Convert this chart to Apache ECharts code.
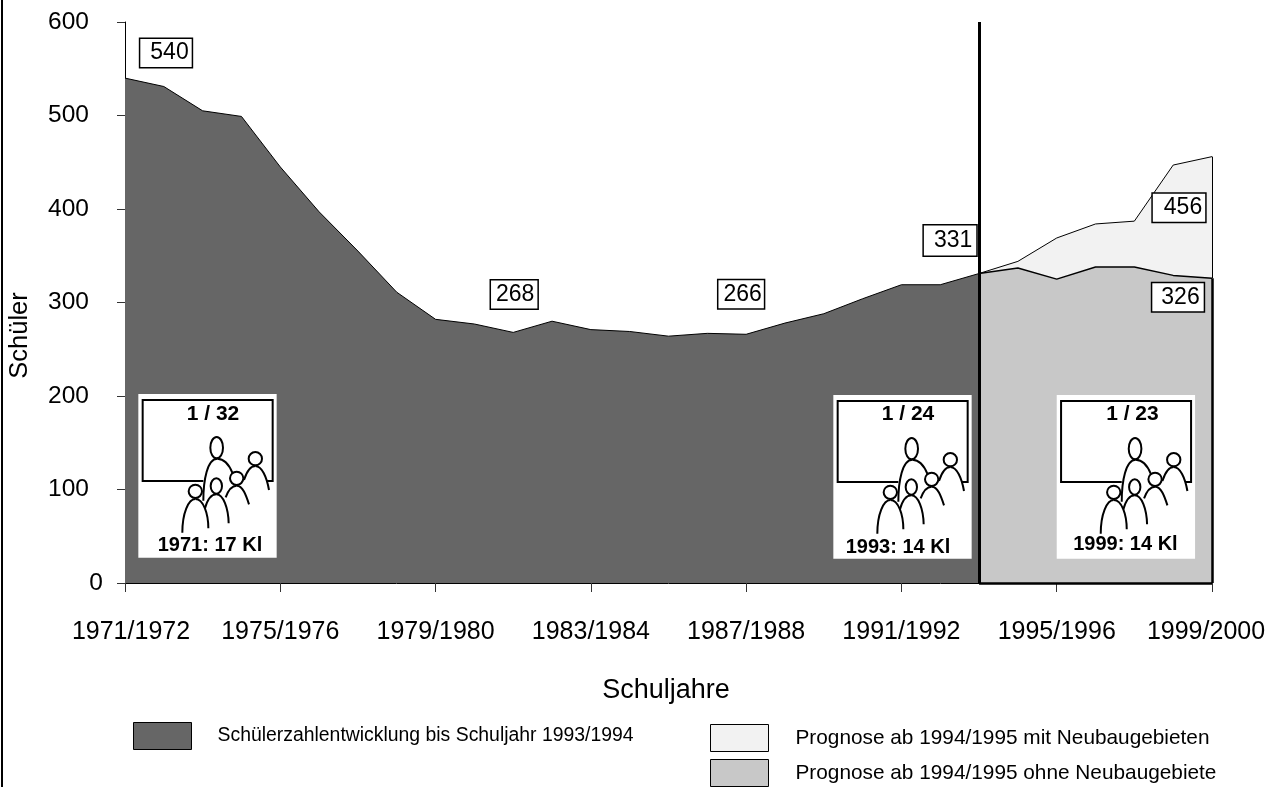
<!DOCTYPE html>
<html><head><meta charset="utf-8">
<style>html,body{margin:0;padding:0;background:#fff}#c{width:1276px;height:787px}</style>
<script src="https://cdn.jsdelivr.net/npm/echarts@6/dist/echarts.min.js"></script>
</head><body><div id="c"></div>
<script>
const years = ['1971/1972','1972/1973','1973/1974','1974/1975','1975/1976','1976/1977','1977/1978','1978/1979','1979/1980','1980/1981','1981/1982','1982/1983','1983/1984','1984/1985','1985/1986','1986/1987','1987/1988','1988/1989','1989/1990','1990/1991','1991/1992','1992/1993','1993/1994','1994/1995','1995/1996','1996/1997','1997/1998','1998/1999','1999/2000'];
const pupils = [540,531,505,499,445,397,355,311,282,277,268,280,271,269,264,267,266,278,288,304,319,319,331,null,null,null,null,null,null];
const withNew = [null,null,null,null,null,null,null,null,null,null,null,null,null,null,null,null,null,null,null,null,null,null,331,344,369,384,387,447,456];
const withoutNew = [null,null,null,null,null,null,null,null,null,null,null,null,null,null,null,null,null,null,null,null,null,null,331,337,325,338,338,329,326];
const names = ['Schülerzahlentwicklung bis Schuljahr 1993/1994','Prognose ab 1994/1995 mit Neubaugebieten','Prognose ab 1994/1995 ohne Neubaugebiete'];
const pictoTexts = [['1 / 32','1971: 17 Kl'],['1 / 24','1993: 14 Kl'],['1 / 23','1999: 14 Kl']];

const F = '"Liberation Sans", Arial, sans-serif';
function callout(series, i, dx, dy, pad) {
  return {coord:[years[i], series[i]], value:series[i], symbol:'rect', symbolSize:0,
    label:{show:true, position:'inside', offset:[dx,dy], formatter:'{c}', color:'#000', fontFamily:F, fontSize:23,
      backgroundColor:'#fff', borderColor:'#000', borderWidth:1.5, padding:pad, lineHeight:22}};
}
const last = years.length-1, split = 22;
function picto(px, py, tx1, ty1, tx2, ty2, texts){
  const ln = {stroke:'#000', lineWidth:6, fill:'none'};
  const hd = {stroke:'#000', lineWidth:6, fill:'#fff'};
  const curves = [
    [250,362,250,300,262,236,292,236],[292,236,315,236,330,260,338,280],
    [372,300,380,275,392,258,406,258],[406,258,425,258,440,290,447,330],
    [317,352,325,330,335,317,350,317],[350,317,368,317,378,345,387,373],
    [255,385,262,360,275,343,289,343],[289,343,310,343,325,385,326,430],
    [187,458,187,400,205,357,226,357],[226,357,250,357,265,400,265,445]
  ];
  const heads = [[290,203,19,32],[406,236,20,20],[350,295,20,20],[289,318,17,23],[226,334,20,20]];
  return {type:'group', x:px, y:py, z:50, children:[
    {type:'group', scaleX:1/3, scaleY:1/3, children:[
      {type:'rect', z:50, shape:{x:55,y:42,width:415,height:491}, style:{fill:'#fff'}},
      {type:'polyline', z:51, shape:{points:[[250,303],[68,303],[68,60],[458,60],[458,303],[440,303]]}, style:ln},
      ...curves.map(c=>({type:'bezierCurve', z:51, shape:{x1:c[0],y1:c[1],cpx1:c[2],cpy1:c[3],cpx2:c[4],cpy2:c[5],x2:c[6],y2:c[7]}, style:ln})),
      ...heads.map(h=>({type:'ellipse', z:52, shape:{cx:h[0],cy:h[1],rx:h[2],ry:h[3]}, style:hd}))
    ]},
    {type:'text', z:53, x:tx1, y:ty1, style:{text:texts[0], font:'bold 21px '+F, fill:'#000', align:'center', verticalAlign:'middle'}},
    {type:'text', z:53, x:tx2, y:ty2, style:{text:texts[1], font:'bold 20px '+F, fill:'#000', align:'center', verticalAlign:'middle'}}
  ]};
}
function legend(name, x, y, color, size, gap){
  return {data:[name], left:x, top:y, padding:0, icon:'rect', itemWidth:58, itemHeight:27, selectedMode:false,
    itemStyle:{color:color, borderColor:'#000', borderWidth:1},
    textStyle:{fontFamily:F, fontSize:size, color:'#000', padding:[0,0,0,gap]}};
}
const chart = echarts.init(document.getElementById('c'), null, {renderer:'canvas'});
chart.setOption({
  animation:false,
  backgroundColor:'#fff',
  grid:{left:125, top:22, width:1087, height:561, outerBoundsMode:'none'},
  legend:[legend(names[0],133,722,'#666666',19.4,21), legend(names[1],710,724,'#f2f2f2',20.8,22), legend(names[2],710,759,'#c8c8c8',20.8,22)],
  xAxis:{type:'category', data:years, boundaryGap:false,
    name:'Schuljahre', nameLocation:'middle', nameGap:94, nameTextStyle:{fontFamily:F,fontSize:27,color:'#000',padding:[0,5,0,0]},
    axisLine:{lineStyle:{color:'#000',width:1}},
    axisTick:{alignWithLabel:true, interval:3, length:9, lineStyle:{color:'#333'}},
    axisLabel:{interval:3, margin:37, fontFamily:F, fontSize:25, color:'#000', hideOverlap:false,
      showMinLabel:true, showMaxLabel:true,
      formatter:v=> v===years[0] ? '{a|'+v+'}' : v===years[last] ? '{b|'+v+'}' : v,
      rich:{a:{fontFamily:F,fontSize:25,color:'#000',padding:[0,0,0,12]}, b:{fontFamily:F,fontSize:25,color:'#000',padding:[0,12,0,0]}}}},
  yAxis:{type:'value', min:0, max:600, interval:100,
    name:'Schüler', nameLocation:'middle', nameGap:92, nameTextStyle:{fontFamily:F,fontSize:25.5,color:'#000',padding:[0,66,0,0]},
    axisLine:{show:true, lineStyle:{color:'#000',width:1}},
    axisTick:{show:true, length:8, lineStyle:{color:'#333'}},
    axisLabel:{margin:22, fontFamily:F, fontSize:24.5, color:'#000',
      formatter:v=> v===0 ? '{z|0}' : '{n|'+v+'}',
      rich:{z:{fontFamily:F,fontSize:24.5,color:'#000'}, n:{fontFamily:F,fontSize:24.5,color:'#000',padding:[0,14,0,0]}}},
    splitLine:{show:false}},
  series:[
    {name:names[1], type:'line', data:withNew, symbol:'none', z:2,
      lineStyle:{color:'#000',width:1}, areaStyle:{color:'#f2f2f2',opacity:1},
      markLine:{silent:true, symbol:'none', label:{show:false}, lineStyle:{color:'#000',width:1,type:'solid'},
        data:[[{coord:[years[last],withoutNew[last]]},{coord:[years[last],withNew[last]]}]]},
      markPoint:{data:[callout(withNew,last,-33,51,[3,3,3,11])]}},
    {name:names[2], type:'line', data:withoutNew, symbol:'none', z:3,
      lineStyle:{color:'#000',width:1.5}, areaStyle:{color:'#c8c8c8',opacity:1},
      markLine:{silent:true, symbol:'none', label:{show:false}, lineStyle:{color:'#000',width:2.5,type:'solid'},
        data:[
          [{coord:[years[split],0]},{coord:[years[last],0]}],
          [{coord:[years[last],0]},{coord:[years[last],withoutNew[last]]}]
        ]},
      markPoint:{data:[callout(withoutNew,last,-34,19,[3,4,3,9])]}},
    {name:names[0], type:'line', data:pupils, symbol:'none', z:4,
      lineStyle:{color:'#000',width:1}, areaStyle:{color:'#666666',opacity:1},
      markLine:{silent:true, symbol:'none', label:{show:false}, lineStyle:{color:'#000',width:3,type:'solid'},
        data:[[{coord:[years[split],0]},{coord:[years[split],600]}]]},
      markPoint:{data:[
        callout(pupils,0,41,-25,[3,3,3,10]),
        callout(pupils,10,1,-38,[3,3,3,5]),
        callout(pupils,16,-5,-40,[3,2,3,5]),
        callout(pupils,split,-29,-33,[4,4,4,10])
      ]}}
  ],
  graphic:[
    {type:'rect', shape:{x:1,y:0,width:2,height:787}, style:{fill:'#000'}, z:60},
    picto(120,380, 93,34, 90,165, pictoTexts[0]),
    picto(815,381, 93,33, 83,166, pictoTexts[1]),
    picto(1038.4,381, 94,33, 87,163, pictoTexts[2])
  ]
});
</script></body></html>
